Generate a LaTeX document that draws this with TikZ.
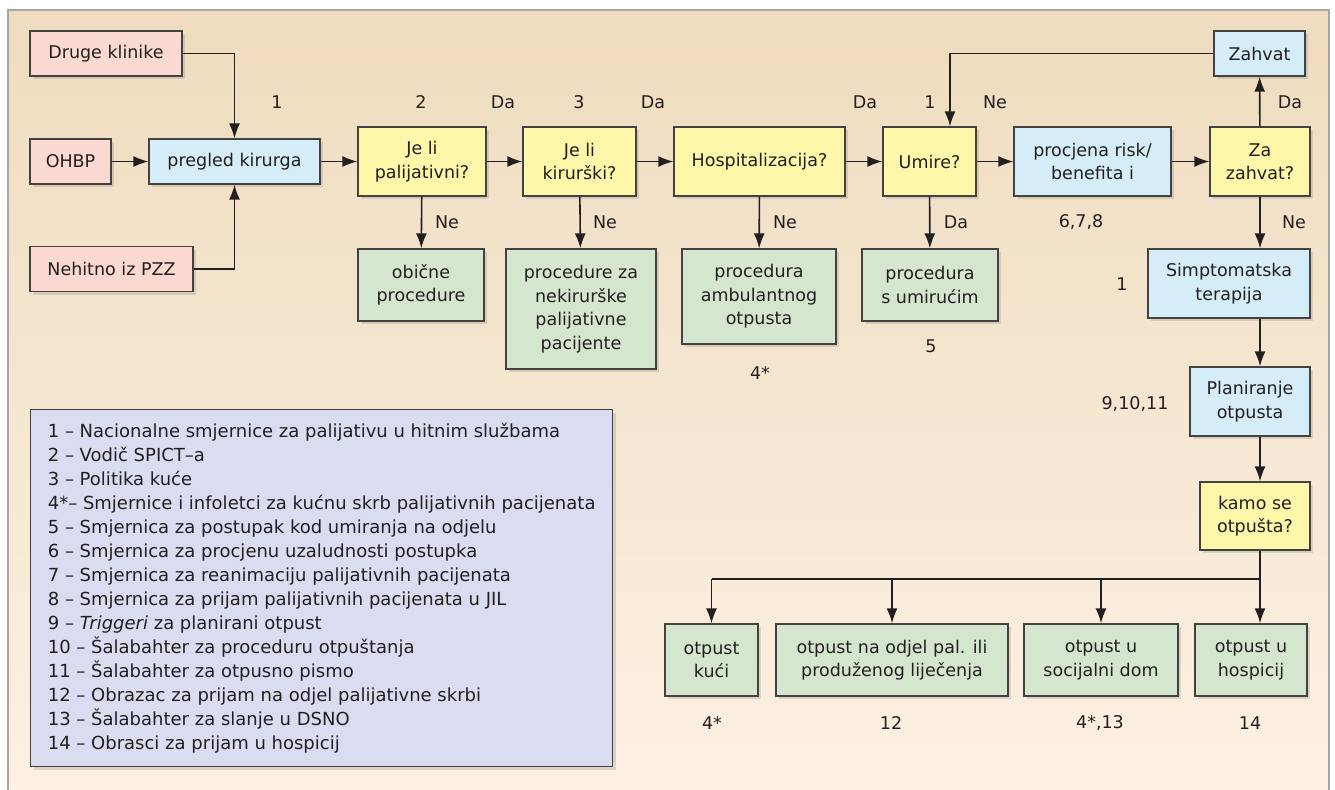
\documentclass[tikz,border=0pt]{standalone}
\usepackage{fontspec}
\setmainfont{DejaVu Sans}
\usetikzlibrary{arrows.meta,shadows}
\definecolor{bgtop}{HTML}{EFDCBF}
\definecolor{bgbot}{HTML}{FDF1E3}
\definecolor{roza}{HTML}{F9D9D0}
\definecolor{plava}{HTML}{D5EDF9}
\definecolor{zuta}{HTML}{FEF6A8}
\definecolor{zelena}{HTML}{D5E6CF}
\definecolor{lila}{HTML}{DADDF1}
\definecolor{tinta}{HTML}{231F20}

\begin{document}
\begin{tikzpicture}[x=1bp, y=-1bp,
		font=\fontsize{17.5bp}{23.5bp}\selectfont, text=tinta,
		box/.style={draw=tinta!85, line width=1.3bp, align=center, inner sep=0pt, drop shadow={shadow xshift=3bp, shadow yshift=-3bp, opacity=0.25}},
		pinkbox/.style={box, fill=roza, minimum height=45bp},
		bluebox/.style={box, fill=plava},
		yellowbox/.style={box, fill=zuta, minimum height=69bp},
		greenbox/.style={box, fill=zelena},
		lbl/.style={inner sep=0pt},
		line/.style={line width=1.6bp, draw=tinta},
		arr/.style={line, -{Latex[length=15bp, width=11bp]}}]
				\useasboundingbox (0,0) rectangle (1335,789);
				\shade[top color=bgtop, bottom color=bgbot] (8,10) rectangle (1329,800);
				\draw[line width=2bp, draw=gray!70] (8,10) rectangle (1329,800);
				\node[pinkbox, minimum width=152bp] (S1)at(106, 53.5) {Druge klinike};
				\node[pinkbox, minimum width=81bp] (S2)at(70.5, 161.5) {OHBP};
				\node[pinkbox, minimum width=163bp] (S3)at(111.5, 269) {Nehitno iz PZZ};
				\node[bluebox, minimum width=171bp, minimum height=45bp] (P)at(234.5, 161.5) {pregled kirurga};
				\node[yellowbox, minimum width=128bp] (Q1)at(422, 161.5) {Je li\\palijativni?};
				\node[yellowbox, minimum width=113bp] (Q2)at(579.5, 161.5) {Je li\\kirurški?};
				\node[yellowbox, minimum width=171bp] (Q3)at(759.5, 161.5) {Hospitalizacija?};
				\node[yellowbox, minimum width=93bp] (Q4)at(929.5, 161.5) {Umire?};
				\node[bluebox, minimum width=157bp, minimum height=69bp] (R)at(1092.5, 161.5) {procjena risk/\\benefita i};
				\node[yellowbox, minimum width=100bp] (Q5)at(1260, 161.5) {Za\\zahvat?};
				\node[bluebox, minimum width=91bp, minimum height=45bp] (Z)at(1259.5, 53.5) {Zahvat};
				\node[greenbox, minimum width=126bp, minimum height=72bp] (G1)at(421, 285) {obične\\procedure};
				\node[greenbox, minimum width=150bp, minimum height=120bp] (G2)at(581, 309) {procedure za\\nekirurške\\palijativne\\pacijente};
				\node[greenbox, minimum width=154bp, minimum height=95bp] (G3)at(759, 296.5) {procedura\\ambulantnog\\otpusta};
				\node[greenbox, minimum width=136bp, minimum height=72bp] (G4)at(930, 285) {procedura\\s umirućim};
				\node[bluebox, minimum width=162bp, minimum height=69bp] (T)at(1229, 283.5) {Simptomatska\\terapija};
				\node[bluebox, minimum width=120bp, minimum height=69bp] (PL)at(1250, 401.5) {Planiranje\\otpusta};
				\node[yellowbox, minimum width=110bp, minimum height=68bp] (Q6)at(1255, 516) {kamo se\\otpušta?};
				\node[greenbox, minimum width=93bp, minimum height=72bp] (O1)at(711.5, 660) {otpust\\kući};
				\node[greenbox, minimum width=232bp, minimum height=72bp] (O2)at(892, 660) {otpust na odjel pal. ili\\produženog liječenja};
				\node[greenbox, minimum width=154bp, minimum height=72bp] (O3)at(1101, 660) {otpust u\\socijalni dom};
				\node[greenbox, minimum width=112bp, minimum height=72bp] (O4)at(1251, 660) {otpust u\\hospicij};
				\node[box, fill=lila, anchor=north west, minimum width=582bp, minimum height=357bp, align=left, font=\fontsize{18bp}{24bp}\selectfont] (LEG)at(30, 409) {1 – Nacionalne smjernice za palijativu u hitnim službama\\
					2 – Vodič SPICT–a\\
					3 – Politika kuće\\
					4*– Smjernice i infoletci za kućnu skrb palijativnih pacijenata\\
					5 – Smjernica za postupak kod umiranja na odjelu\\
					6 – Smjernica za procjenu uzaludnosti postupka\\
					7 – Smjernica za reanimaciju palijativnih pacijenata\\
					8 – Smjernica za prijam palijativnih pacijenata u JIL\\
					9 – \textit{Triggeri} za planirani otpust\\
					10 – Šalabahter za proceduru otpuštanja\\
					11 – Šalabahter za otpusno pismo\\
					12 – Obrazac za prijam na odjel palijativne skrbi\\
					13 – Šalabahter za slanje u DSNO\\
					14 – Obrasci za prijam u hospicij};
				\node[lbl] (N1)at(277, 102) {1};
				\node[lbl] (N2)at(421, 102) {2};
				\node[lbl] (D1)at(503, 102) {Da};
				\node[lbl] (N3)at(579, 102) {3};
				\node[lbl] (D2)at(653, 102) {Da};
				\node[lbl] (D3)at(865, 102) {Da};
				\node[lbl] (N4)at(930, 102) {1};
				\node[lbl] (E1)at(995, 102) {Ne};
				\node[lbl] (D4)at(1290, 102) {Da};
				\node[lbl] (E2)at(447, 222) {Ne};
				\node[lbl] (E3)at(605, 222) {Ne};
				\node[lbl] (E4)at(785, 222) {Ne};
				\node[lbl] (D5)at(956, 222) {Da};
				\node[lbl] (N5)at(1081, 222) {6,7,8};
				\node[lbl] (E5)at(1294, 222) {Ne};
				\node[lbl] (N6)at(760, 373) {4*};
				\node[lbl] (N7)at(931, 346) {5};
				\node[lbl] (N8)at(1122, 284) {1};
				\node[lbl] (N9)at(1135, 404) {9,10,11};
				\node[lbl] (N10)at(712, 723) {4*};
				\node[lbl] (N11)at(891, 723) {12};
				\node[lbl] (N12)at(1100, 723) {4*,13};
				\node[lbl] (N13)at(1250, 723) {14};
				\coordinate (split)at(1260, 579);
				\draw[arr] (S1) -| (P);
				\draw[arr] (S3) -| (P);
				\draw[arr] (S2) -- (P);
				\draw[arr] (P) -- (Q1);
				\draw[arr] (Q1) -- (Q2);
				\draw[arr] (Q2) -- (Q3);
				\draw[arr] (Q3) -- (Q4);
				\draw[arr] (Q4) -- (R);
				\draw[arr] (R) -- (Q5);
				\draw[arr] (Q5) -- (Z);
				\draw[arr] (Z) -| ([xshift=20.5bp]Q4.north);
				\draw[arr] (Q1) -- (G1);
				\draw[arr] (Q2) -- (G2);
				\draw[arr] (Q3) -- (G3);
				\draw[arr] (Q4) -- (G4);
				\draw[arr] (Q5) -- (Q5 |- T.north);
				\draw[arr] (T.south -| Q5) -- (PL.north -| Q5);
				\draw[arr] (PL.south -| Q5) -- (Q6.north -| Q5);
				\draw[line] (Q6.south -| Q5) -- (split);
				\draw[line] (split) -- (split -| O1);
				\draw[arr] (split) -- (O4.north -| split);
				\draw[arr] (split -| O1) -- (O1);
				\draw[arr] (split -| O2) -- (O2);
				\draw[arr] (split -| O3) -- (O3);
			\end{tikzpicture}
\end{document}
